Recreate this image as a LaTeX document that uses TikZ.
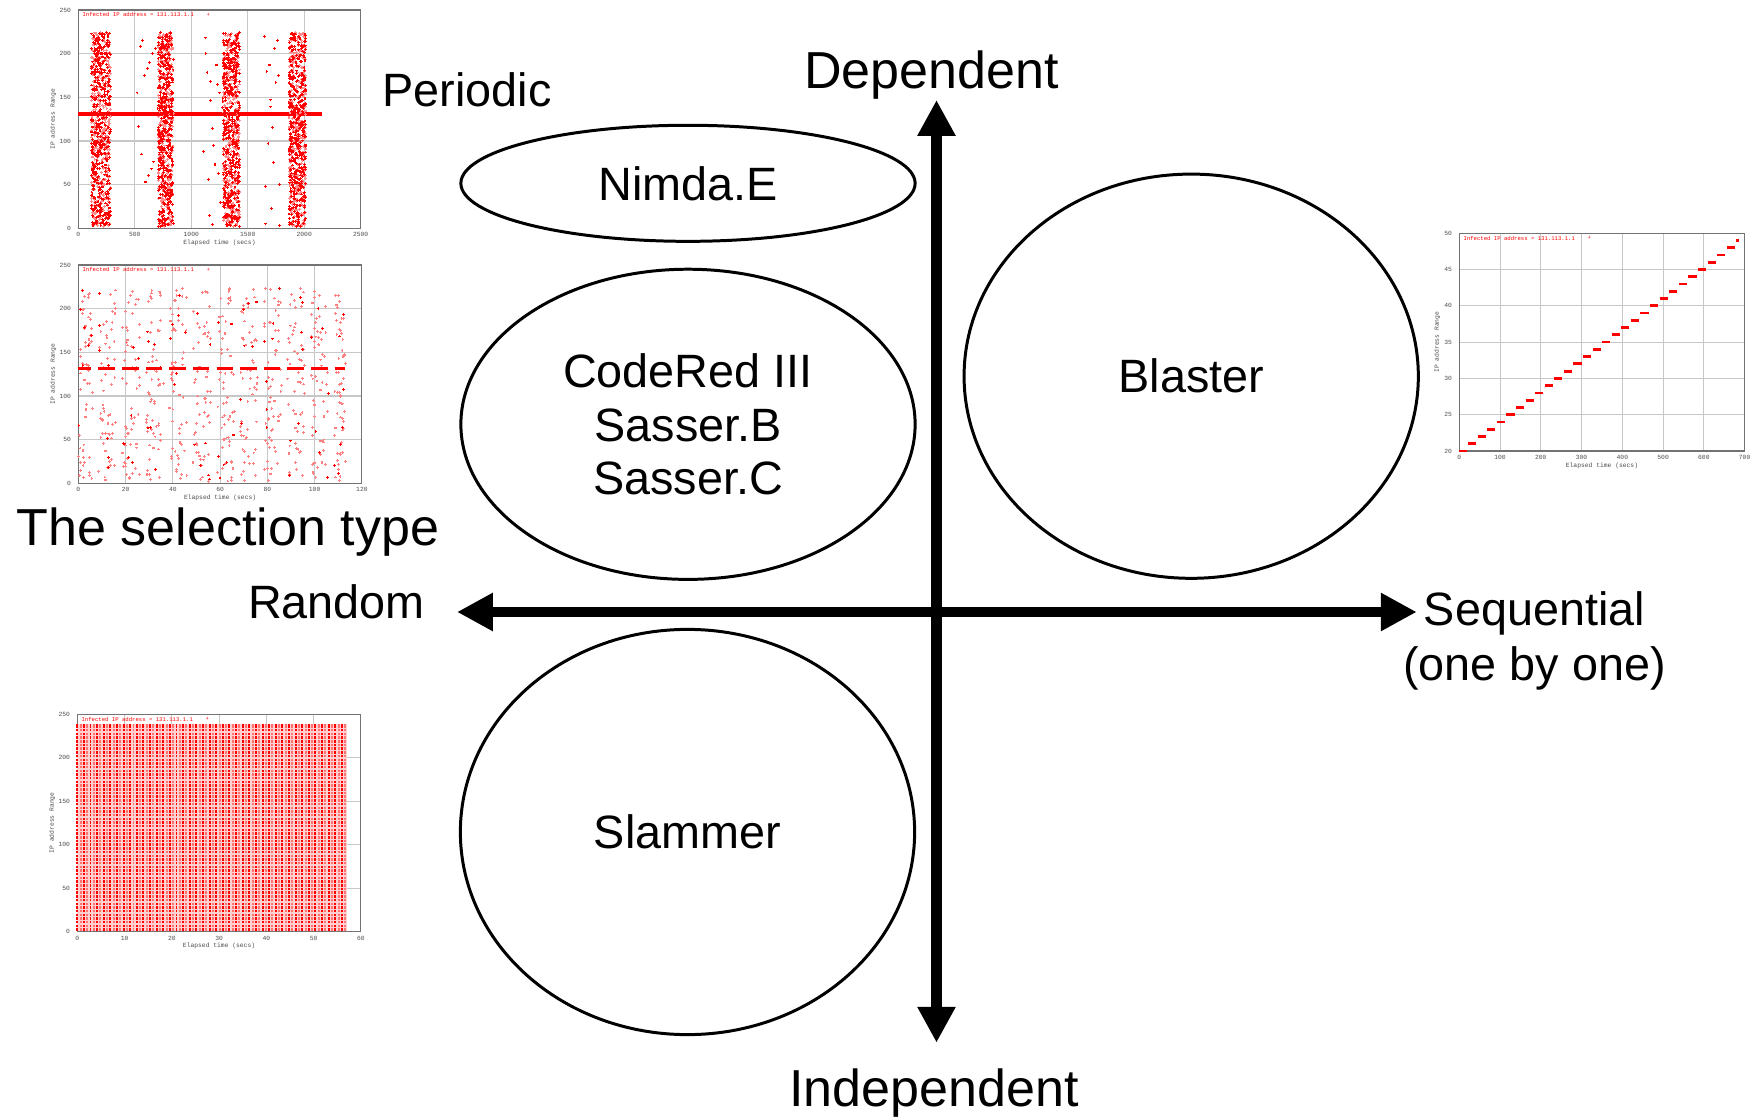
\documentclass[tikz,border=0pt]{standalone}
\usepackage{fontspec}
\setmainfont{Liberation Sans}
\newfontfamily\plotfont{Liberation Mono}
\usetikzlibrary{arrows.meta,shapes.geometric}

\tikzset{
  lbl/.style={font=\fontsize{13.3}{15.2}\selectfont, inner sep=0pt, anchor=base},
  biglbl/.style={font=\fontsize{14.8}{17}\selectfont, inner sep=0pt, anchor=base},
  oval/.style={draw, ellipse, line width=0.85pt, inner sep=0pt, align=center,
    minimum width=4.54cm, font=\fontsize{13.3}{15.2}\selectfont},
  axisarrow/.style={line width=2.85pt,
    {Triangle[length=10.2pt,width=10.2pt]}-{Triangle[length=10.2pt,width=10.2pt]}},
  gridl/.style={draw=black!22, line width=0.3pt},
  frm/.style={draw=black!55, line width=0.3pt},
  tick/.style={font=\plotfont\fontsize{1.8}{2}\selectfont, text=black!70, inner sep=0pt},
  ttl/.style={tick, text=red, font=\plotfont\fontsize{1.6}{2}\selectfont},
  mk/.style={line width=0.3pt},
}

% axes of a small scatter plot, drawn inside a scope in data coordinates
% #1 prefix, #2 xmax, #3 xstep, #4 ymin, #5 ymax, #6 ystep, #7 y-label shift
\newcommand\plotaxes[7]{%
  \pgfmathtruncatemacro\nxx{#2/#3}%
  \pgfmathtruncatemacro\nyy{(#5-#4)/#6}%
  \foreach \i in {1,...,\nxx}{\pgfmathtruncatemacro\vv{\i*#3}\draw[gridl] (\vv,#4) -- (\vv,#5);}
  \foreach \i in {1,...,\nyy}{\pgfmathtruncatemacro\vv{#4+\i*#6}\draw[gridl] (0,\vv) -- (#2,\vv);}
  \draw[frm] (0,#4) rectangle (#2,#5);
  \foreach \i in {0,...,\nxx}{\pgfmathtruncatemacro\vv{\i*#3}%
    \node[tick,anchor=north,name=#1x\i] at ([yshift=-1pt]\vv,#4) {\vv};}
  \foreach \i in {0,...,\nyy}{\pgfmathtruncatemacro\vv{#4+\i*#6}%
    \node[tick,anchor=east,name=#1y\i] at ([xshift=-1.9pt]0,\vv) {\vv};}
  \node[tick,anchor=north,name=#1xl] at ([yshift=-3.1pt]{#2/2},#4) {Elapsed time (secs)};
  \node[tick,rotate=90,name=#1yl] at ([xshift=#7]0,{(#4+#5)/2}) {IP address Range};
  \node[ttl,anchor=west,name=#1t] at ([xshift=1pt,yshift=-1.4pt]0,#5) {Infected IP address = 131.113.1.1};
  \node[ttl,name=#1k] at ([xshift=37pt,yshift=-1.4pt]0,#5) {+};
}

\begin{document}
\begin{tikzpicture}[x=0.01cm,y=-0.01cm]
\useasboundingbox (0,0) rectangle (1763,1118);
\pgfmathsetseed{7}

% ---------- plot 1 : periodic ----------
\begin{scope}[shift={(78.3,228.3)}, x=0.0011336cm, y=0.008732cm]
  \plotaxes{pa}{2500}{500}{0}{250}{50}{-7.1pt}
  \draw[red, line width=1.1pt] (0,131) -- (2160,131);
  \foreach \a/\b in {115/285,705/840,1280/1430,1865/2015}{
    \draw[mk,red!45] foreach \i in {1,...,350}{({\a+(\b-\a)*rnd},{2+222*rnd}) +(-0.4pt,0pt) -- +(0.4pt,0pt) +(0pt,-0.4pt) -- +(0pt,0.4pt)};
    \draw[mk,red] foreach \i in {1,...,450}{({\a+(\b-\a)*rnd},{2+222*rnd}) +(-0.4pt,0pt) -- +(0.4pt,0pt) +(0pt,-0.4pt) -- +(0pt,0.4pt)};
  }
  \draw[mk,red] foreach \p in {(520,155),(530,117),(560,85),(585,175),(595,53),(550,208),(570,215),(610,183),(620,60),(632,190),(650,68),(655,200),(665,76),(680,206),
      (1110,88),(1125,218),(1130,200),(1140,178),(1150,56),(1160,15),(1170,146),(1172,168),(1190,114),(1200,95),(1210,73),(1220,187),(1230,165),(1240,63),(1250,155),(1190,4),(1260,30),
      (1650,220),(1660,48),(1670,180),(1680,97),(1690,187),(1700,147),(1705,139),(1710,23),(1720,115),(1730,75),(1740,206),(1750,167),(1760,215),(1770,175),(1780,50),(1660,5),(1780,3)}
      {\p +(-0.4pt,0pt) -- +(0.4pt,0pt) +(0pt,-0.4pt) -- +(0pt,0.4pt)};
\end{scope}

% ---------- plot 2 : random with period ----------
\begin{scope}[shift={(78.3,483.3)}, x=0.023617cm, y=0.008732cm]
  \plotaxes{pb}{120}{20}{0}{250}{50}{-7.1pt}
  \foreach \c in {0,10,...,110}{
    \pgfmathsetmacro\lo{max(0,\c-1.5)}
    \pgfmathsetmacro\hi{min(\c+6,113)}
    \draw[mk,red!50] foreach \i in {1,...,55}{({\lo+(\hi-\lo)*rnd},{2+222*rnd}) +(-0.4pt,0pt) -- +(0.4pt,0pt) +(0pt,-0.4pt) -- +(0pt,0.4pt)};
    \draw[mk,red] foreach \i in {1,...,7}{({\lo+(\hi-\lo)*rnd},{2+222*rnd}) +(-0.4pt,0pt) -- +(0.4pt,0pt) +(0pt,-0.4pt) -- +(0pt,0.4pt)};
    \draw[red, line width=0.9pt] (\lo,131) -- ({min(\c+5.5,113)},131);
  }
\end{scope}

% ---------- plot 3 : random ----------
\begin{scope}[shift={(77.3,931.7)}, x=0.047233cm, y=0.008696cm]
  \plotaxes{pc}{60}{10}{0}{250}{50}{-7.1pt}
  \fill[red!18] (0,1) rectangle (57,239);
  \foreach \i in {0,...,81}{
    \pgfmathsetmacro\xx{\i*0.7}
    \pgfmathtruncatemacro\parity{mod(\i,2)}
    \ifnum\parity=0
      \draw[red, line width=0.55pt, dash pattern=on 0.7pt off 0.35pt] (\xx,1) -- (\xx,239);
    \else
      \draw[red!55, line width=0.55pt, dash pattern=on 0.7pt off 0.35pt] (\xx,1) -- (\xx,239);
    \fi
  }
\end{scope}

% ---------- plot 4 : sequential ----------
\begin{scope}[shift={(1459.3,451)}, x=0.0040814cm, y=0.072567cm, shift={(0,-20)}]
  \plotaxes{pd}{700}{100}{20}{50}{5}{-6.3pt}
  \foreach \k in {0,...,29}{
    \pgfmathsetmacro\lo{max(0,23.5*\k-2)}
    \pgfmathsetmacro\hi{min(23.5*\k+18,687)}
    \draw[red, line width=0.8pt] (\lo,20+\k) -- (\hi,20+\k);
  }
\end{scope}

% ---------- main diagram ----------
\node[oval, minimum height=1.16cm] (nimda) at (688,183.3) {Nimda.E};
\node[oval, minimum height=3.10cm] (codered) at (688,424.3) {CodeRed III\\Sasser.B\\Sasser.C};
\node[oval, minimum height=4.04cm] (blaster) at (1191.2,376.2) {Blaster};
\node[oval, minimum height=4.05cm] (slammer) at (687.5,832) {Slammer};

\coordinate (yt) at (936.5,100);
\coordinate (yb) at (936.5,1042.7);
\coordinate (xl) at (457,612);
\coordinate (xr) at (1416.7,612);
\draw[axisarrow] (yb) -- (yt);
\draw[axisarrow] (xl) -- (xr);

\node[biglbl] (dep) at (931.5,88.3) {Dependent};
\node[biglbl] (indep) at (934,1106) {Independent};
\node[lbl] (periodic) at (467,106.7) {Periodic};
\node[biglbl] (seltype) at (228,545) {The selection type};
\node[lbl] (random) at (336.5,618.3) {Random};
\node[lbl] (seq1) at (1534.5,625) {Sequential};
\node[lbl] (seq2) at (1534.5,680) {(one by one)};
\end{tikzpicture}
\end{document}
